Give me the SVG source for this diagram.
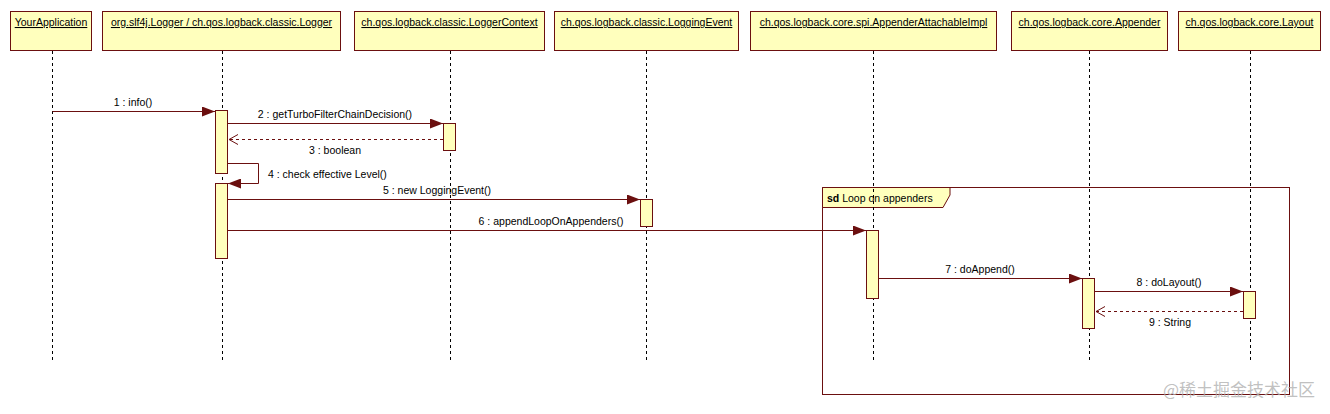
<svg xmlns="http://www.w3.org/2000/svg" width="1330" height="414" viewBox="0 0 1330 414">
<defs>
<style>
.hdr{fill:#ffffbd;stroke:#6b0f0f;stroke-width:1}
.ht{font-family:"Liberation Sans",Arial,sans-serif;font-size:10.5px;fill:#000;text-decoration:underline}
.life{stroke:#000;stroke-width:1;stroke-dasharray:3,3;fill:none}
.act{fill:#ffffbd;stroke:#6b0f0f;stroke-width:1}
.msg{stroke:#6b0f0f;stroke-width:1;fill:none}
.ret{stroke:#6b0f0f;stroke-width:1;fill:none;stroke-dasharray:3,3}
.lbl{font-family:"Liberation Sans",Arial,sans-serif;font-size:10.5px;fill:#000}
</style>
<marker id="fill" markerWidth="14" markerHeight="10" refX="13" refY="5" orient="auto" markerUnits="userSpaceOnUse">
<path d="M0,0 L13,5 L0,10 Z" fill="#6b0f0f"/>
</marker>
<marker id="open" markerWidth="12" markerHeight="12" refX="9" refY="5" orient="auto" markerUnits="userSpaceOnUse">
<path d="M0,0 L9,5 L0,10" fill="none" stroke="#6b0f0f" stroke-width="1"/>
</marker>
</defs>
<rect width="1330" height="414" fill="#fff"/>

<g id="frame">
<rect x="822.5" y="187.5" width="467" height="207" fill="none" stroke="#6b0f0f"/>
<path d="M822.5,207.5 H943 L950,195 V187.5 H822.5 Z" fill="#ffffbd" stroke="#6b0f0f"/>
<text x="827" y="201.5" class="lbl"><tspan font-weight="bold">sd</tspan> Loop on appenders</text>
</g>

<g id="YourApplication">
<rect class="hdr" x="10.5" y="11.5" width="81" height="39"/>
<text class="ht" x="51" y="26" text-anchor="middle">YourApplication</text>
<line class="life" x1="52.5" y1="51" x2="52.5" y2="360"/>
</g>
<g id="Logger">
<rect class="hdr" x="102.5" y="11.5" width="238" height="39"/>
<text class="ht" x="221.5" y="26" text-anchor="middle">org.slf4j.Logger / ch.qos.logback.classic.Logger</text>
<line class="life" x1="222.5" y1="51" x2="222.5" y2="360"/>
<rect class="act" x="215.5" y="110.5" width="12" height="63"/>
<rect class="act" x="215.5" y="183.5" width="12" height="75"/>
</g>
<g id="LoggerContext">
<rect class="hdr" x="354.5" y="11.5" width="190" height="39"/>
<text class="ht" x="449.5" y="26" text-anchor="middle">ch.qos.logback.classic.LoggerContext</text>
<line class="life" x1="450.5" y1="51" x2="450.5" y2="360"/>
<rect class="act" x="443.5" y="123.5" width="12" height="27"/>
</g>
<g id="LoggingEvent">
<rect class="hdr" x="554.5" y="11.5" width="184" height="39"/>
<text class="ht" x="646.5" y="26" text-anchor="middle">ch.qos.logback.classic.LoggingEvent</text>
<line class="life" x1="646.5" y1="51" x2="646.5" y2="360"/>
<rect class="act" x="640.5" y="199.5" width="12" height="27"/>
</g>
<g id="AppenderAttachableImpl">
<rect class="hdr" x="750.5" y="11.5" width="246" height="39"/>
<text class="ht" x="873.5" y="26" text-anchor="middle">ch.qos.logback.core.spi.AppenderAttachableImpl</text>
<line class="life" x1="873.5" y1="51" x2="873.5" y2="360"/>
<rect class="act" x="866.5" y="230.5" width="12" height="68"/>
</g>
<g id="Appender">
<rect class="hdr" x="1011.5" y="11.5" width="156" height="39"/>
<text class="ht" x="1089.5" y="26" text-anchor="middle">ch.qos.logback.core.Appender</text>
<line class="life" x1="1089.5" y1="51" x2="1089.5" y2="360"/>
<rect class="act" x="1082.5" y="278.5" width="12" height="50"/>
</g>
<g id="Layout">
<rect class="hdr" x="1178.5" y="11.5" width="142" height="39"/>
<text class="ht" x="1249.5" y="26" text-anchor="middle">ch.qos.logback.core.Layout</text>
<line class="life" x1="1250.5" y1="51" x2="1250.5" y2="360"/>
<rect class="act" x="1243.5" y="291.5" width="12" height="27"/>
</g>

<g id="connectors">
<line class="msg" x1="52.5" y1="111.5" x2="215" y2="111.5" marker-end="url(#fill)"/>
<text class="lbl" x="133" y="106" text-anchor="middle">1 : info()</text>
<line class="msg" x1="228" y1="123.5" x2="443" y2="123.5" marker-end="url(#fill)"/>
<text class="lbl" x="335" y="118" text-anchor="middle">2 : getTurboFilterChainDecision()</text>
<line class="ret" x1="443" y1="139.5" x2="229" y2="139.5" marker-end="url(#open)"/>
<text class="lbl" x="335" y="154" text-anchor="middle">3 : boolean</text>
<path class="msg" d="M228,163.5 H258.5 V183.5 H228" marker-end="url(#fill)"/>
<text class="lbl" x="268" y="178">4 : check effective Level()</text>
<line class="msg" x1="228" y1="199.5" x2="640" y2="199.5" marker-end="url(#fill)"/>
<text class="lbl" x="437" y="194" text-anchor="middle">5 : new LoggingEvent()</text>
<line class="msg" x1="228" y1="230.5" x2="866" y2="230.5" marker-end="url(#fill)"/>
<text class="lbl" x="551" y="225" text-anchor="middle">6 : appendLoopOnAppenders()</text>
<line class="msg" x1="879" y1="278.5" x2="1082" y2="278.5" marker-end="url(#fill)"/>
<text class="lbl" x="980" y="273" text-anchor="middle">7 : doAppend()</text>
<line class="msg" x1="1095" y1="291.5" x2="1243" y2="291.5" marker-end="url(#fill)"/>
<text class="lbl" x="1169" y="286" text-anchor="middle">8 : doLayout()</text>
<line class="ret" x1="1243" y1="311.5" x2="1096" y2="311.5" marker-end="url(#open)"/>
<text class="lbl" x="1170" y="326" text-anchor="middle">9 : String</text>
</g>

<text x="1315" y="396" text-anchor="end" font-family="'Noto Sans CJK SC',sans-serif" font-size="17" fill="#b0b0b0" fill-opacity="0.8">@稀土掘金技术社区</text>
</svg>
